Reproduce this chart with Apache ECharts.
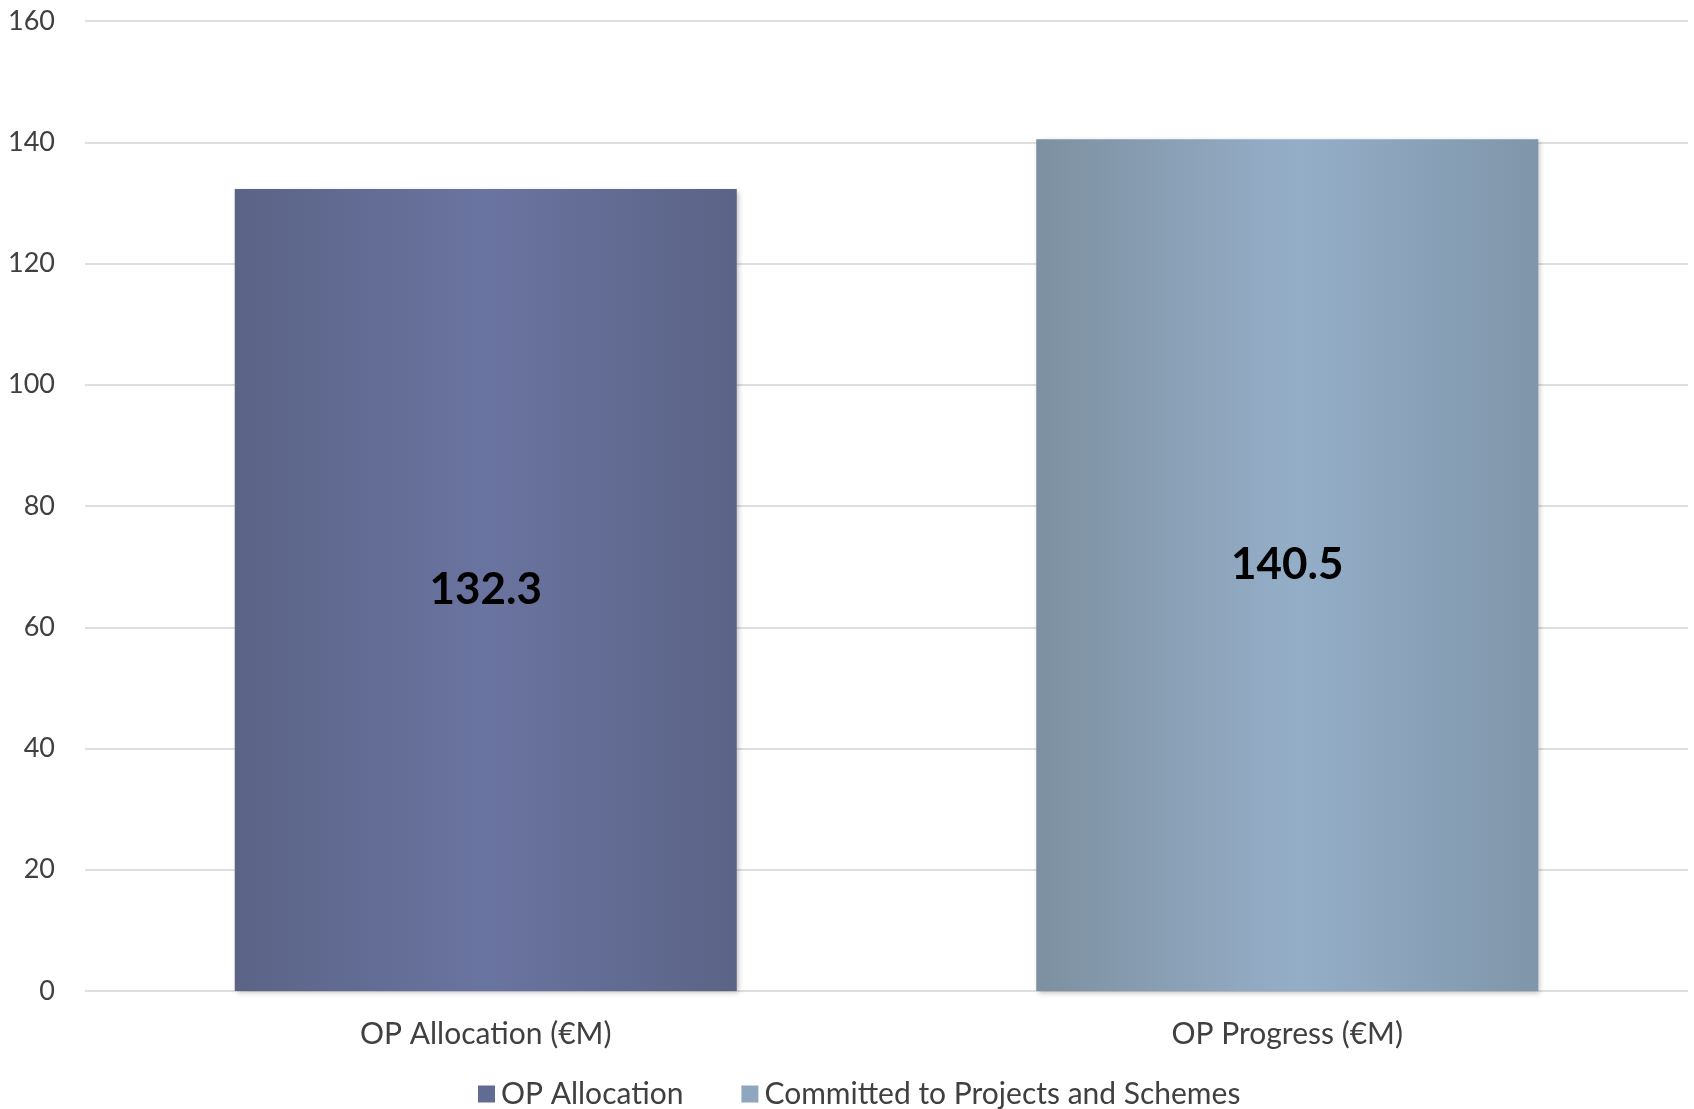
<!DOCTYPE html>
<html>
<head>
<meta charset="utf-8">
<script src="https://cdn.jsdelivr.net/npm/echarts@6/dist/echarts.min.js"></script>
<style>
html,body{margin:0;padding:0;background:#fff;}
#c{width:1694px;height:1109px;}
</style>
</head>
<body>
<div id="c"></div>
<script>
const categories = ['OP Allocation (€M)', 'OP Progress (€M)'];
const seriesNames = ['OP Allocation', 'Committed to Projects and Schemes'];
const allocationValues = [132.3, '-'];
const committedValues = ['-', 140.5];
const yTicks = { min: 0, max: 160, interval: 20 };

const FONT = 'Lato';
const grad1 = new echarts.graphic.LinearGradient(0, 0, 1, 0, [
  { offset: 0, color: '#5b6386' },
  { offset: 0.5, color: '#6a74a0' },
  { offset: 1, color: '#5b6386' }
]);
const grad2 = new echarts.graphic.LinearGradient(0, 0, 1, 0, [
  { offset: 0, color: '#7d90a1' },
  { offset: 0.52, color: '#95aec8' },
  { offset: 1, color: '#7f96aa' }
]);

const chart = echarts.init(document.getElementById('c'), null, { renderer: 'canvas' });
const labelCfg = {
  show: true,
  position: 'inside',
  color: '#000',
  fontFamily: FONT,
  fontWeight: 'bold',
  fontSize: 44
};
chart.setOption({
  animation: false,
  backgroundColor: '#ffffff',
  grid: { left: 85, right: 6, top: 21, bottom: 118, containLabel: false },
  legend: {
    left: 473,
    top: 1074,
    itemWidth: 17,
    itemHeight: 17,
    itemGap: 58,
    icon: 'rect',
    textStyle: { fontFamily: FONT, fontSize: 30, color: '#404040', padding: [0, 0, 0, 1] },
    data: [
      { name: seriesNames[0], itemStyle: { color: '#626b93' } },
      { name: seriesNames[1], itemStyle: { color: '#8ea7bf' } }
    ]
  },
  xAxis: {
    type: 'category',
    data: categories,
    axisLine: { show: false },
    axisTick: { show: false },
    axisLabel: { fontFamily: FONT, fontSize: 30, color: '#404040', margin: 28 }
  },
  yAxis: {
    type: 'value',
    min: yTicks.min,
    max: yTicks.max,
    interval: yTicks.interval,
    axisLine: { show: false },
    axisTick: { show: false },
    axisLabel: { fontFamily: FONT, fontSize: 27, color: '#404040', margin: 30 },
    splitLine: { lineStyle: { color: '#dedede', width: 2 } }
  },
  series: [
    {
      name: seriesNames[0],
      type: 'bar',
      stack: 'one',
      barWidth: 502,
      data: allocationValues,
      itemStyle: { color: grad1, shadowBlur: 5, shadowOffsetX: 2, shadowOffsetY: 2, shadowColor: 'rgba(0,0,0,0.25)' },
      label: labelCfg
    },
    {
      name: seriesNames[1],
      type: 'bar',
      stack: 'one',
      barWidth: 502,
      data: committedValues,
      itemStyle: { color: grad2, shadowBlur: 5, shadowOffsetX: 2, shadowOffsetY: 2, shadowColor: 'rgba(0,0,0,0.25)' },
      label: labelCfg
    }
  ]
});
</script>
</body>
</html>
